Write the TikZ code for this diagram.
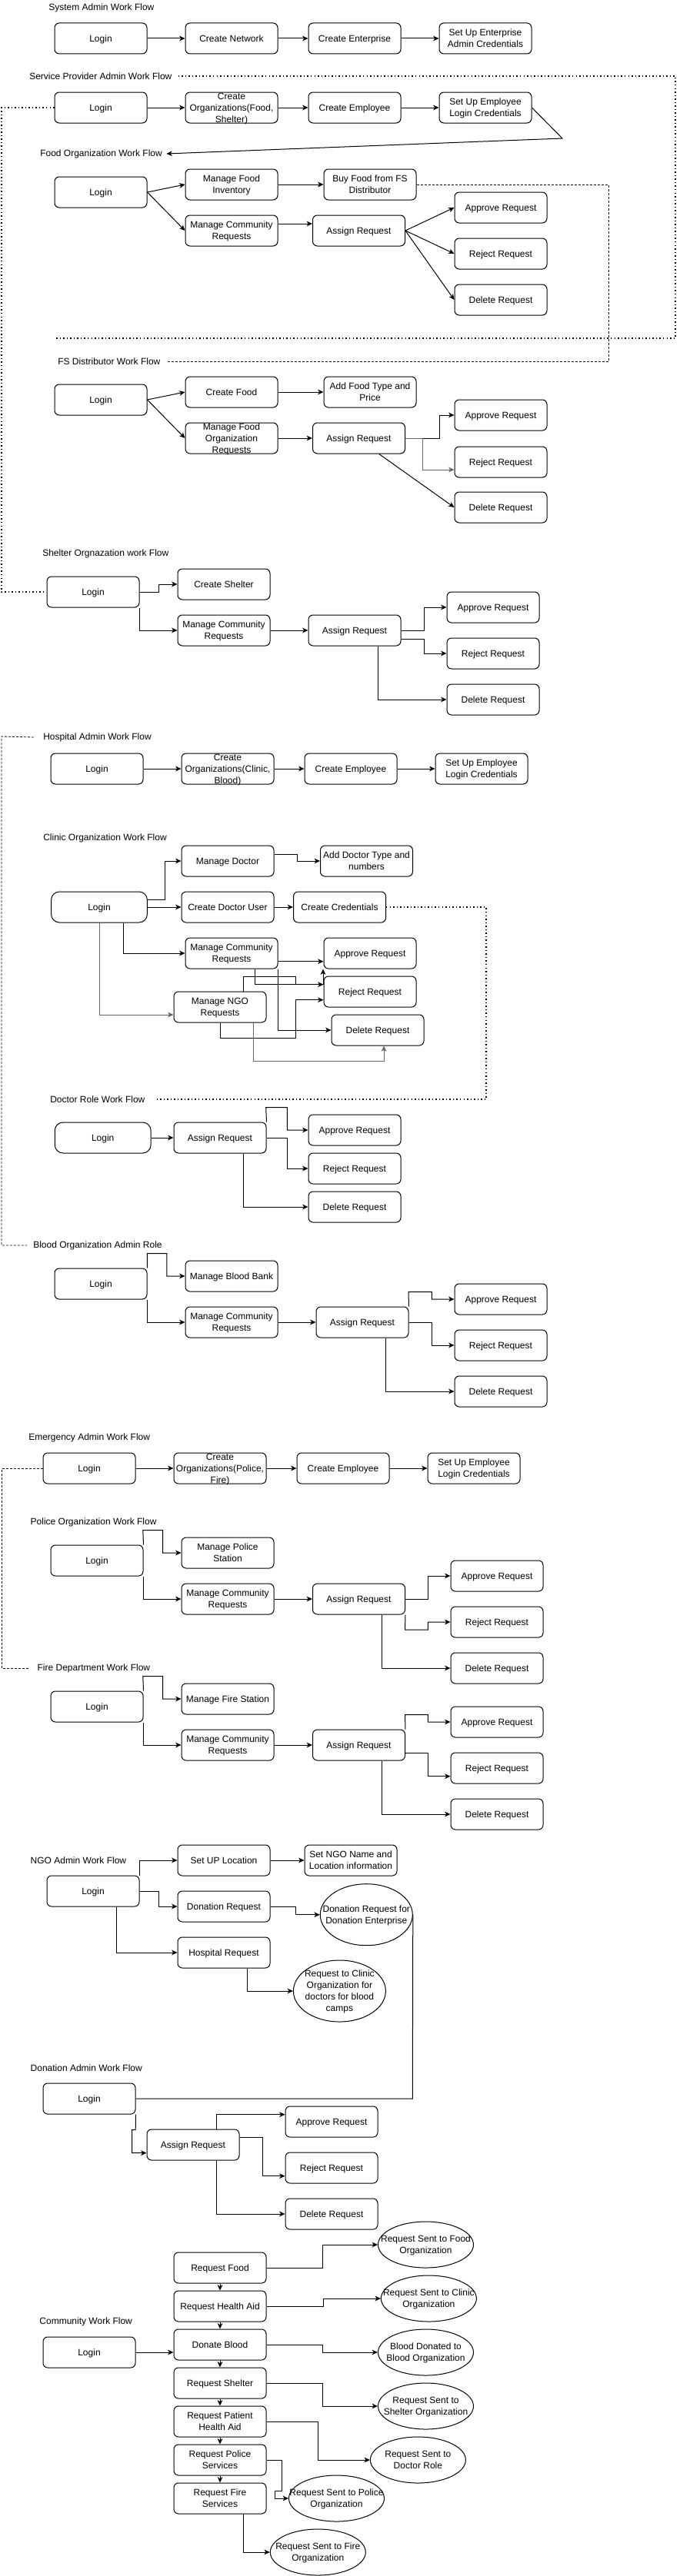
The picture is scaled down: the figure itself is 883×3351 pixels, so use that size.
\documentclass[tikz,border=0pt]{standalone}
\usepackage{fontspec}
\setmainfont{Liberation Sans}
\usetikzlibrary{arrows.meta,shapes.geometric}
\newcommand\boxtext[1]{\raisebox{-3.2pt}[0pt][0pt]{\makebox[0pt]{\begin{tabular}{@{}c@{}}#1\end{tabular}}}}
\tikzset{
  txtfont/.style={font=\fontsize{9}{11.25}\selectfont},
  box/.style={draw, line width=0.75pt, rounded corners=4.5pt, minimum width=90pt, minimum height=30pt, inner sep=0pt, txtfont},
  rbox/.style={box, rounded corners=8pt, minimum width=93.6pt},
  ell/.style={draw, line width=0.75pt, ellipse, inner sep=0pt, minimum width=90pt, minimum height=60pt, txtfont},
  sell/.style={ell, minimum width=93pt, minimum height=45pt},
  ttl/.style={anchor=west, inner sep=0pt, txtfont},
  arr/.style={line width=0.75pt, -{Stealth[length=5.5pt,width=5pt,inset=1.5pt]}},
  ln/.style={line width=0.75pt},
  dotl/.style={line width=1.1pt, dash pattern=on 1.1pt off 2.3pt},
  dashl/.style={line width=0.6pt, dash pattern=on 2.25pt off 1.5pt},
}
\begin{document}
\begin{tikzpicture}[x=0.75pt,y=-0.75pt]
\useasboundingbox[fill=white] (0,0) rectangle (883,3351);

% ---------------- System Admin
\node[ttl] (t1) at (63,10) {System Admin Work Flow};
\node[box] (sa1) at (131,50) {\boxtext{Login}};
\node[box] (sa2) at (301,50) {\boxtext{Create Network}};
\node[box] (sa3) at (461,50) {\boxtext{Create Enterprise}};
\node[box] (sa4) at (631,50) {\boxtext{Set Up Enterprise\\Admin Credentials}};
\draw[arr] (sa1) -- (sa2);
\draw[arr] (sa2) -- (sa3);
\draw[arr] (sa3) -- (sa4);

% ---------------- Service Provider
\node[ttl] (t2) at (38,99) {Service Provider Admin Work Flow};
\node[box] (sp1) at (131,140) {\boxtext{Login}};
\node[box] (sp2) at (301,140) {\boxtext{Create\\Organizations(Food,\\Shelter)}};
\node[box] (sp3) at (461,140) {\boxtext{Create Employee}};
\node[box] (sp4) at (631,140) {\boxtext{Set Up Employee\\Login Credentials}};
\draw[arr] (sp1) -- (sp2);
\draw[arr] (sp2) -- (sp3);
\draw[arr] (sp3) -- (sp4);
\coordinate (spend) at (71,440);
\draw[dotl] ([xshift=6pt]t2.east) -- (878,99) -- (878,440) -- (spend);

% ---------------- Food Organization
\node[ttl] (t3) at (52,200) {Food Organization Work Flow};
\draw[arr] (sp4.east) -- (731,180) -- ([xshift=4pt]t3.east);
\node[box] (fo1) at (131,250) {\boxtext{Login}};
\node[box] (fo2) at (301,240) {\boxtext{Manage Food\\Inventory}};
\node[box] (fo3) at (481,240) {\boxtext{Buy Food from FS\\Distributor}};
\node[box] (fo4) at (301,300) {\boxtext{Manage Community\\Requests}};
\node[box] (fo5) at (466.5,300) {\boxtext{Assign Request}};
\node[box] (fo6) at (651,270) {\boxtext{Approve Request}};
\node[box] (fo7) at (651,330) {\boxtext{Reject Request}};
\node[box] (fo8) at (651,390) {\boxtext{Delete Request}};
\draw[arr] (fo1.east) -- (fo2.west);
\draw[arr] (fo1.east) -- (fo4.west);
\draw[arr] (fo2) -- (fo3);
\draw[arr] (fo4.east |- 0,291) -- (fo5.west |- 0,291);
\draw[arr] (fo5.east) -- (fo6.west);
\draw[arr] (fo5.east) -- (fo7.west);
\draw[arr] (fo5.east) -- (fo8.west);

% ---------------- FS Distributor
\node[ttl] (t4) at (75,470) {FS Distributor Work Flow};
\draw[dashl] (fo3.east) -- (791,240) -- (791,470) -- ([xshift=6pt]t4.east);
\node[box] (fs1) at (131,520) {\boxtext{Login}};
\node[box] (fs2) at (301,510) {\boxtext{Create Food}};
\node[box] (fs3) at (481,510) {\boxtext{Add Food Type and\\Price}};
\node[box] (fs4) at (301,570) {\boxtext{Manage Food\\Organization\\Requests}};
\node[box] (fs5) at (466.5,570) {\boxtext{Assign Request}};
\node[box] (fs6) at (651,540) {\boxtext{Approve Request}};
\node[box] (fs7) at (651,601) {\boxtext{Reject Request}};
\node[box] (fs8) at (651,660) {\boxtext{Delete Request}};
\draw[arr] (fs1.east) -- (fs2.west);
\draw[arr] (fs1.east) -- (fs4.west);
\draw[arr] (fs2) -- (fs3);
\draw[arr] (fs4) -- (fs5);
\draw[arr] (fs5.east) -- (571.5,570) |- (fs6.west);
\draw[arr,black!60] (fs5.east) -- (549,570) -- (549,611) -- (fs7.west |- 0,611);
\draw[arr] (fs5.south -| 492.7,0) -- (fs8.west);

% ---------------- Shelter
\node[ttl] (t5) at (55,720) {Shelter Orgnazation work Flow};
\node[box] (sh1) at (121,770) {\boxtext{Login}};
\node[box] (sh2) at (291,760) {\boxtext{Create Shelter}};
\node[box] (sh3) at (291,820) {\boxtext{Manage Community\\Requests}};
\node[box] (sh4) at (461,820) {\boxtext{Assign Request}};
\node[box] (sh5) at (641,790) {\boxtext{Approve Request}};
\node[box] (sh6) at (641,850) {\boxtext{Reject Request}};
\node[box] (sh7) at (641,910) {\boxtext{Delete Request}};
\draw[dotl] (sp1.west) -- (2,140) -- (2,770) -- (sh1.west);
\draw[arr] (sh1.east) -- (206.6,770) |- (sh2.west);
\draw[arr] (sh1.south east) |- (sh3.west);
\draw[arr] (sh3) -- (sh4);
\draw[arr] (sh4.east) -- (551,820) |- (sh5.west);
\draw[arr] (sh4.east |- 0,831) -- (551,831) |- (sh6.west);
\draw[arr] (sh4.south -| 491.6,0) |- (sh7.west);

% ---------------- Hospital Admin
\node[ttl] (t6) at (56,959) {Hospital Admin Work Flow};
\node[box] (ho1) at (126,1000) {\boxtext{Login}};
\node[box] (ho2) at (296,1000) {\boxtext{Create\\Organizations(Clinic,\\Blood)}};
\node[box] (ho3) at (456,1000) {\boxtext{Create Employee}};
\node[box] (ho4) at (626,1000) {\boxtext{Set Up Employee\\Login Credentials}};
\draw[arr] (ho1) -- (ho2);
\draw[arr] (ho2) -- (ho3);
\draw[arr] (ho3) -- (ho4);

% ---------------- Clinic Organization
\node[ttl] (t7) at (56,1090) {Clinic Organization Work Flow};
\node[rbox] (cl1) at (129,1180) {\boxtext{Login}};
\node[box] (cl2) at (296,1120) {\boxtext{Manage Doctor}};
\node[box] (cl3) at (476.5,1120) {\boxtext{Add Doctor Type and\\numbers}};
\node[box] (cl4) at (296,1180) {\boxtext{Create Doctor User}};
\node[box] (cl5) at (441.5,1180) {\boxtext{Create Credentials}};
\node[box] (cl6) at (301,1240) {\boxtext{Manage Community\\Requests}};
\node[box] (cl7) at (481,1240) {\boxtext{Approve Request}};
\node[box] (cl8) at (481,1290) {\boxtext{Reject Request}};
\node[box] (cl9) at (286,1310) {\boxtext{Manage NGO\\Requests}};
\node[box] (cl10) at (491,1340) {\boxtext{Delete Request}};
\draw[arr] (cl1.east |- 0,1170) -- (214,1170) |- (cl2.west);
\draw[arr] (cl2.east |- 0,1111) -- (386,1111) |- (cl3.west);
\draw[arr] (cl1) -- (cl4);
\draw[arr] (cl4) -- (cl5);
\draw[arr] (cl1.south -| 160.5,0) |- (cl6.west);
\draw[arr,black!60] (cl1.south) |- (cl9.west |- 0,1320);
\draw[arr] (cl6.east |- 0,1250.7) -- (cl7.west |- 0,1250.7);
\draw[arr] (cl6.south -| 331.7,0) |- (cl8.west |- 0,1280.7);
\draw[arr] (cl6.south east) |- (cl10.west);
\draw[arr] (cl9.north -| 316.7,0) -- (316.7,1270.7) -- (384,1270.7) -- (384,1280.7) -- (420,1280.7) -- (420,1260.5);
\draw[arr] (cl9.south) -- (286,1350) -- (384,1350) |- (cl8.west |- 0,1300.7);
\draw[arr,black!60] (cl9.south -| 329,0) -- (329,1380) -- (499,1380) -- (cl10.south -| 499,0);

% ---------------- Doctor Role
\node[ttl] (t8) at (65,1430) {Doctor Role Work Flow};
\draw[dotl] (cl5.east) -- (632,1180) -- (632,1430) -- ([xshift=10pt]t8.east);
\node[rbox] (dr1) at (133.7,1480) {\boxtext{Login}};
\node[box] (dr2) at (286,1480) {\boxtext{Assign Request}};
\node[box] (dr3) at (461,1470) {\boxtext{Approve Request}};
\node[box] (dr4) at (461,1520) {\boxtext{Reject Request}};
\node[box] (dr5) at (461,1570) {\boxtext{Delete Request}};
\draw[arr] (dr1) -- (dr2);
\draw[arr] (dr2.north east) -- (345.7,1440.7) -- (373.3,1440.7) |- (dr3.west);
\draw[arr] (dr2.east) -- (373.3,1480) |- (dr4.west);
\draw[arr] (dr2.south -| 316.4,0) |- (dr5.west);

% ---------------- Blood Organization
\node[ttl] (tb) at (43,1620) {Blood Organization Admin Role};
\draw[dashl] ([xshift=-9pt]t6.west) -- (2,958) -- (2,1620) -- ([xshift=-6pt]tb.west);
\node[box] (bl1) at (131,1670) {\boxtext{Login}};
\node[box] (bl2) at (301,1660) {\boxtext{Manage Blood Bank}};
\node[box] (bl3) at (301,1720) {\boxtext{Manage Community\\Requests}};
\node[box] (bl4) at (471,1720) {\boxtext{Assign Request}};
\node[box] (bl5) at (651,1690) {\boxtext{Approve Request}};
\node[box] (bl6) at (651,1750) {\boxtext{Reject Request}};
\node[box] (bl7) at (651,1810) {\boxtext{Delete Request}};
\draw[arr] (bl1.north east) -- (191.4,1630.7) -- (216.8,1630.7) |- (bl2.west);
\draw[arr] (bl1.south east) |- (bl3.west);
\draw[arr] (bl3) -- (bl4);
\draw[arr] (bl4.north east) -- (531,1680.7) -- (561.4,1680.7) |- (bl5.west);
\draw[arr] (bl4.east) -- (561.4,1720) |- (bl6.west);
\draw[arr] (bl4.south -| 501,0) |- (bl7.west);

% ---------------- Emergency Admin
\node[ttl] (te) at (37,1870) {Emergency Admin Work Flow};
\node[box] (em1) at (116,1910) {\boxtext{Login}};
\node[box] (em2) at (286,1910) {\boxtext{Create\\Organizations(Police,\\Fire)}};
\node[box] (em3) at (446,1910) {\boxtext{Create Employee}};
\node[box] (em4) at (616,1910) {\boxtext{Set Up Employee\\Login Credentials}};
\draw[arr] (em1) -- (em2);
\draw[arr] (em2) -- (em3);
\draw[arr] (em3) -- (em4);

% ---------------- Police
\node[ttl] (tp) at (39.4,1980) {Police Organization Work Flow};
\node[box] (po1) at (126,2030) {\boxtext{Login}};
\node[box] (po2) at (296,2020) {\boxtext{Manage Police\\Station}};
\node[box] (po3) at (296,2080) {\boxtext{Manage Community\\Requests}};
\node[box] (po4) at (466.5,2080) {\boxtext{Assign Request}};
\node[box] (po5) at (646,2050) {\boxtext{Approve Request}};
\node[box] (po6) at (646,2110) {\boxtext{Reject Request}};
\node[box] (po7) at (646,2170) {\boxtext{Delete Request}};
\draw[arr] (po1.north east) -- (185.8,1990.7) -- (211.7,1990.7) |- (po2.west);
\draw[arr] (po1.south east) |- (po3.west);
\draw[arr] (po3) -- (po4);
\draw[arr] (po4.east) -- (556.3,2080) |- (po5.west);
\draw[arr] (po4.south east) -- (526.5,2120) -- (556.3,2120) |- (po6.west);
\draw[arr] (po4.south -| 496.6,0) |- (po7.west);

% ---------------- Fire
\node[ttl] (tf) at (48.4,2170) {Fire Department Work Flow};
\draw[dashl] (em1.west) -- (2,1910) -- (2,2170) -- ([xshift=-8pt]tf.west);
\node[box] (fi1) at (126,2220) {\boxtext{Login}};
\node[box] (fi2) at (296,2210) {\boxtext{Manage Fire Station}};
\node[box] (fi3) at (296,2270) {\boxtext{Manage Community\\Requests}};
\node[box] (fi4) at (466.5,2270) {\boxtext{Assign Request}};
\node[box] (fi5) at (646,2240) {\boxtext{Approve Request}};
\node[box] (fi6) at (646,2300) {\boxtext{Reject Request}};
\node[box] (fi7) at (646,2360) {\boxtext{Delete Request}};
\draw[arr] (fi1.north east) -- (185.8,2180.7) -- (211.7,2180.7) |- (fi2.west);
\draw[arr] (fi1.south east) |- (fi3.west);
\draw[arr] (fi3) -- (fi4);
\draw[arr] (fi4.north east) -- (526.5,2230.7) -- (556.3,2230.7) |- (fi5.west);
\draw[arr] (fi4.east |- 0,2280.7) -- (556.3,2280.7) |- (fi6.west |- 0,2310.7);
\draw[arr] (fi4.south -| 496.6,0) |- (fi7.west);

% ---------------- NGO Admin
\node[ttl] (tn) at (39.4,2420) {NGO Admin Work Flow};
\node[box] (ng1) at (121,2460) {\boxtext{Login}};
\node[box] (ng2) at (291,2420) {\boxtext{Set UP Location}};
\node[box] (ng3) at (456,2420) {\boxtext{Set NGO Name and\\Location information}};
\node[box] (ng4) at (291,2480) {\boxtext{Donation Request}};
\node[ell] (ng5) at (476.3,2490.7) {\boxtext{Donation Request for\\Donation Enterprise}};
\node[box] (ng6) at (291,2540) {\boxtext{Hospital Request}};
\node[ell] (ng7) at (441.4,2590) {\boxtext{Request to Clinic\\Organization for\\doctors for blood\\camps}};
\draw[arr] (ng1.north east) |- (ng2.west);
\draw[arr] (ng2) -- (ng3);
\draw[arr] (ng1.east) -- (206.6,2460) |- (ng4.west);
\draw[arr] (ng4.east) -- (384,2480) |- (ng5.west);
\draw[arr] (ng1.south -| 151,0) |- (ng6.west);
\draw[arr] (ng6.south -| 321.5,0) |- (ng7.west);

% ---------------- Donation Admin
\node[ttl] (td) at (39.4,2690) {Donation Admin Work Flow};
\node[box] (do1) at (116,2730) {\boxtext{Login}};
\node[box] (do2) at (251,2790) {\boxtext{Assign Request}};
\node[box] (do3) at (431,2760) {\boxtext{Approve Request}};
\node[box] (do4) at (431,2820) {\boxtext{Reject Request}};
\node[box] (do5) at (431,2880) {\boxtext{Delete Request}};
\draw[ln] (ng5.east) -- (536.3,2730) -- (do1.east);
\draw[arr] (do1.south east) -- (176.2,2770.7) -- (171.7,2770.7) |- (do2.west |- 0,2800.7);
\draw[arr] (do2.north -| 281.5,0) |- (do3.west |- 0,2750.7);
\draw[arr] (do2.east |- 0,2780.7) -- (341.2,2780.7) |- (do4.west |- 0,2830.7);
\draw[arr] (do2.south -| 281.5,0) |- (do5.west);

% ---------------- Community
\node[ttl] (tc) at (51.2,3020) {Community Work Flow};
\node[box] (co1) at (116,3060) {\boxtext{Login}};
\node[box] (c1) at (286,2950) {\boxtext{Request Food}};
\node[box] (c2) at (286,3000) {\boxtext{Request Health Aid}};
\node[box] (c3) at (286,3050) {\boxtext{Donate Blood}};
\node[box] (c4) at (286,3100) {\boxtext{Request Shelter}};
\node[box] (c5) at (286,3150) {\boxtext{Request Patient\\Health Aid}};
\node[box] (c6) at (286,3200) {\boxtext{Request Police\\Services}};
\node[box] (c7) at (286,3250) {\boxtext{Request Fire\\Services}};
\node[sell] (e1) at (553.5,2920) {\boxtext{Request Sent to Food\\Organization}};
\node[sell] (e2) at (557.4,2990) {\boxtext{Request Sent to Clinic\\Organization}};
\node[sell] (e3) at (553.5,3060) {\boxtext{Blood Donated to\\Blood Organization}};
\node[sell] (e4) at (553.5,3130) {\boxtext{Request Sent to\\Shelter Organization}};
\node[sell] (e5) at (543.4,3200) {\boxtext{Request Sent to\\Doctor Role}};
\node[sell] (e6) at (437.5,3250) {\boxtext{Request Sent to Police\\Organization}};
\node[sell] (e7) at (413.3,3320) {\boxtext{Request Sent to Fire\\Organization}};
\draw[arr] (co1.east) -- (c3.west |- 0,3060);
\draw[arr] (c1) -- (c2);
\draw[arr] (c2) -- (c3);
\draw[arr] (c3) -- (c4);
\draw[arr] (c4) -- (c5);
\draw[arr] (c5) -- (c6);
\draw[arr] (c6) -- (c7);
\draw[arr] (c1.east) -- (419,2950) |- (e1.west);
\draw[arr] (c2.east) -- (420.6,3000) |- (e2.west);
\draw[arr] (c3.east) -- (419,3050) |- (e3.west);
\draw[arr] (c4.east) -- (419,3100) |- (e4.west);
\draw[arr] (c5.east) -- (413.9,3150) |- (e5.west);
\draw[arr] (c6.east) -- (366.6,3200) -- (366.6,3240.7) -- (357,3240.7) |- (e6.west);
\draw[arr] (c7.south -| 316.4,0) |- (e7.west);
\end{tikzpicture}
\end{document}
